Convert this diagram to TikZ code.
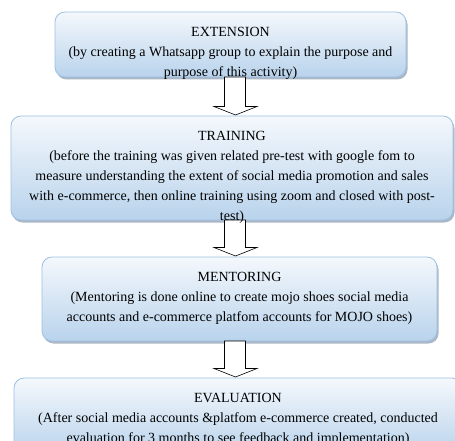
\documentclass[tikz,border=0pt]{standalone}
\usepackage{fontspec}
\setmainfont{Liberation Serif}
\usepackage{xcolor}
\definecolor{StageTop}   {HTML}{F4F8FC}
\definecolor{StageBottom}{HTML}{B9D3EC}
\definecolor{StageEdge}  {HTML}{9CC1E4}
\definecolor{StageShade} {HTML}{8798AE}
\usetikzlibrary{positioning,shadows,calc}
% hollow block arrow from the foot of one stage to the head of the next
\newcommand{\stageArrow}[2]{%
  \draw[stagearrow] let \p1=(#1.south), \p2=(#2.north) in
    (224.5pt,\y1) -- (245.5pt,\y1) -- (245.5pt,\y2+9.5pt)
    -- (257pt,\y2+9.5pt) -- (235.5pt,\y2+1pt) -- (214pt,\y2+9.5pt)
    -- (224.5pt,\y2+9.5pt) -- cycle;}

\begin{document}
\begin{tikzpicture}[x=1pt,y=1pt,
  stagebox/.style={draw=StageEdge,line width=0.8pt,rounded corners=10pt,
    top color=StageTop,bottom color=StageBottom,
    drop shadow={shadow xshift=1.5pt,shadow yshift=-2.5pt,
      fill=StageShade,opacity=0.7},
    inner sep=0pt,outer sep=0pt},
  stagetext/.style={anchor=north,inner sep=0pt,align=center,
    font=\fontsize{14}{19.8}\selectfont,yshift=-15.5pt},
  stagearrow/.style={draw=black,line width=0.6pt,fill=white}]
  \useasboundingbox (0,0) rectangle (455,-441);
  % the four stages
  \node[stagebox,minimum width=351pt,minimum height=65pt,
    anchor=north west] (ext) at (55,-12) {};
  \node[stagebox,minimum width=442pt,minimum height=104pt,
    below=39pt of ext,xshift=1.5pt] (trn) {};
  \node[stagebox,minimum width=395pt,minimum height=84pt,
    below=37pt of trn,xshift=7.5pt] (mnt) {};
  \node[stagebox,minimum width=448pt,minimum height=77pt,
    below=37pt of mnt,xshift=-1.5pt] (evl) {};
  \stageArrow{ext}{trn}
  \stageArrow{trn}{mnt}
  \stageArrow{mnt}{evl}
  % texts
  \node[stagetext] (ext-txt) at (ext.north) {EXTENSION\\
    (by creating a Whatsapp group to explain the purpose and\\
    purpose of this activity)};
  \node[stagetext] (trn-txt) at (trn.north) {TRAINING\\
    (before the training was given related pre-test with google fom to\\
    measure understanding the extent of social media promotion and sales\\
    with e-commerce, then online training using zoom and closed with post-\\
    test)};
  \node[stagetext] (mnt-txt) at (mnt.north) {MENTORING\\
    (Mentoring is done online to create mojo shoes social media\\
    accounts and e-commerce platfom accounts for MOJO shoes)};
  \node[stagetext] (evl-txt) at (evl.north) {EVALUATION\\
    (After social media accounts \&platfom e-commerce created, conducted\\
    evaluation for 3 months to see feedback and implementation)};
\end{tikzpicture}
\end{document}
